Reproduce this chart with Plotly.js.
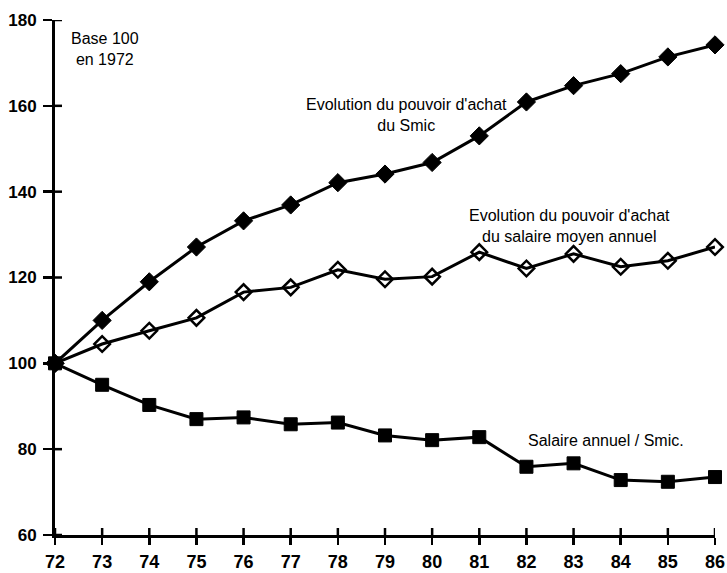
<!DOCTYPE html>
<html>
<head>
<meta charset="utf-8">
<script src="https://cdn.plot.ly/plotly-3.0.1.min.js"></script>
<style>html,body{margin:0;padding:0;background:#fff;}#chart{width:727px;height:573px;}</style>
</head>
<body>
<div id="chart"></div>
<script>
var years = [72,73,74,75,76,77,78,79,80,81,82,83,84,85,86];
var tickLabels = ["72","73","74","75","76","77","78","79","80","81","82","83","84","85","86"];
var smic = [100,110,119,127.1,133.2,136.9,142.1,144.1,146.8,153,160.9,164.7,167.5,171.4,174.2];
var salaireMoyen = [100,104.5,107.6,110.6,116.6,117.7,121.8,119.6,120.2,125.9,122.1,125.5,122.5,123.9,127.1];
var ratio = [100,95,90.3,87,87.4,85.8,86.2,83.2,82.1,82.8,75.9,76.7,72.8,72.4,73.5];
var yTicks = [60,80,100,120,140,160,180];
var xRange = [72, 86];
var yRange = [60, 180];

var font = "'Liberation Sans', Arial, Helvetica, sans-serif";

var traces = [
  {x: years, y: smic, mode: 'lines+markers', cliponaxis: false, hoverinfo: 'skip',
   line: {color: '#000', width: 3},
   marker: {symbol: 'diamond', size: 14, color: '#000', line: {color: '#000', width: 1}}},
  {x: years, y: salaireMoyen, mode: 'lines+markers', cliponaxis: false, hoverinfo: 'skip',
   line: {color: '#000', width: 3},
   marker: {symbol: 'diamond-open', size: 12, color: '#000', line: {color: '#000', width: 2.5}}},
  {x: years, y: ratio, mode: 'lines+markers', cliponaxis: false, hoverinfo: 'skip',
   line: {color: '#000', width: 3},
   marker: {symbol: 'square', size: 13, color: '#000', line: {color: '#000', width: 1}}}
];

// inner half of the crossing tick marks, placed through the axes' own scales
var shapes = [];
years.forEach(function (v) {
  shapes.push({type: 'line', layer: 'above', xref: 'x', yref: 'y', ysizemode: 'pixel', yanchor: yRange[0],
    x0: v, x1: v, y0: 0, y1: 7, line: {color: '#000', width: 2.5}});
});
yTicks.forEach(function (v) {
  shapes.push({type: 'line', layer: 'above', xref: 'x', yref: 'y', xsizemode: 'pixel', xanchor: xRange[0],
    y0: v, y1: v, x0: 0, x1: 7, line: {color: '#000', width: 2.5}});
});

var layout = {
  width: 727, height: 573,
  margin: {l: 55, r: 12, t: 20, b: 38},
  paper_bgcolor: '#fff', plot_bgcolor: 'rgba(0,0,0,0)',
  showlegend: false,
  font: {family: font, color: '#000'},
  xaxis: {range: xRange, tickvals: years, ticktext: tickLabels,
    showgrid: false, zeroline: false, showline: true, linecolor: '#000', linewidth: 3,
    ticks: 'outside', ticklen: 7, tickwidth: 2.5, tickcolor: '#000',
    tickfont: {family: font, size: 18, color: '#000', weight: 'bold'}, ticklabelstandoff: 1},
  yaxis: {range: yRange, tickvals: yTicks,
    showgrid: false, zeroline: false, showline: true, linecolor: '#000', linewidth: 3,
    ticks: 'outside', ticklen: 9, tickwidth: 2.5, tickcolor: '#000',
    tickfont: {family: font, size: 17, color: '#000', weight: 'bold'}, ticklabelstandoff: 3},
  shapes: shapes,
  annotations: [
    {x: 73.06, y: 173.2, xref: 'x', yref: 'y', showarrow: false, align: 'center',
     text: 'Base 100<br>en 1972', font: {family: font, size: 16, color: '#000'}},
    {x: 79.45, y: 157.9, xref: 'x', yref: 'y', showarrow: false, align: 'center',
     text: "Evolution du pouvoir d'achat<br>du Smic", font: {family: font, size: 16, color: '#000'}},
    {x: 82.92, y: 132, xref: 'x', yref: 'y', showarrow: false, align: 'center',
     text: "Evolution du pouvoir d'achat<br>du salaire moyen annuel", font: {family: font, size: 16, color: '#000'}},
    {x: 83.69, y: 82.1, xref: 'x', yref: 'y', showarrow: false, align: 'center',
     text: 'Salaire annuel / Smic.', font: {family: font, size: 16, color: '#000'}}
  ]
};

Plotly.newPlot('chart', traces, layout, {displayModeBar: false, staticPlot: true});
</script>
</body>
</html>
